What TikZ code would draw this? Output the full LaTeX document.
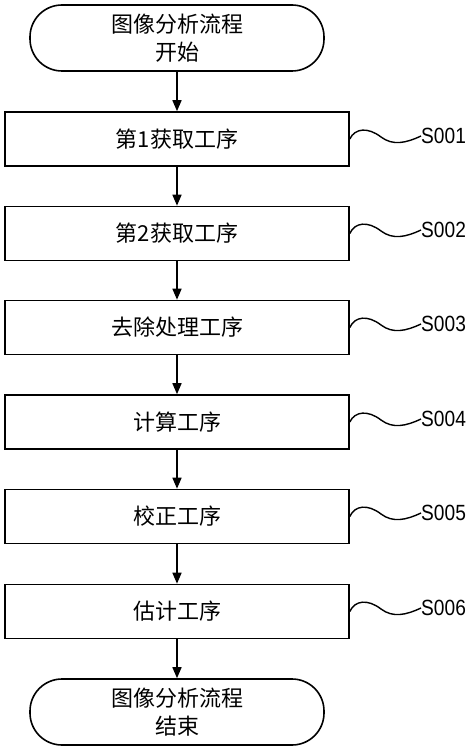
\documentclass[tikz,border=0pt]{standalone}
\usepackage{fontspec}
\setmainfont{Noto Sans CJK SC}
\newfontfamily\labfont[FakeStretch=0.87]{Liberation Sans}
\usetikzlibrary{arrows.meta}
\tikzset{
  stepbox/.style={draw, line width=1.6pt, minimum width=344pt, minimum height=54pt, inner sep=0pt, font=\fontsize{22}{28}\selectfont},
  term/.style={draw, line width=1.6pt, rounded corners=32pt, minimum width=294pt, minimum height=66pt, inner sep=0pt, align=center, font=\fontsize{22}{28}\selectfont},
  flow/.style={line width=1.6pt, -{Triangle[length=11pt,width=9pt]}},
  wave/.style={line width=1.4pt},
  steplab/.style={anchor=west, inner sep=0pt, font=\labfont\fontsize{22}{24}\selectfont}
}
\begin{document}
\begin{tikzpicture}[x=1pt,y=-1pt]
\useasboundingbox (0,0) rectangle (474,751);
\node[term] (start) at (177,38) {图像分析流程\\开始};
\node[stepbox] (b1) at (177,139) {第1获取工序};
\node[stepbox] (b2) at (177,233.5) {第2获取工序};
\node[stepbox] (b3) at (177,327.5) {去除处理工序};
\node[stepbox] (b4) at (177,422) {计算工序};
\node[stepbox] (b5) at (177,516.5) {校正工序};
\node[stepbox] (b6) at (177,611.5) {估计工序};
\node[term] (end) at (177,712) {图像分析流程\\结束};
\draw[flow] (start) -- (b1);
\draw[flow] (b1) -- (b2);
\draw[flow] (b2) -- (b3);
\draw[flow] (b3) -- (b4);
\draw[flow] (b4) -- (b5);
\draw[flow] (b5) -- (b6);
\draw[flow] (b6) -- (end);
\foreach \i/\t/\s in {1/112/S001,2/206/S002,3/300/S003,4/395/S004,5/489/S005,6/584/S006}{
  \node[steplab] (l\i) at (421,\t+24) {\s};
  \draw[wave] (b\i.east) .. controls (355,\t+16) and (368,\t+15) .. (381,\t+25)
     .. controls (393,\t+34) and (406,\t+31) .. (l\i.west);
}
\end{tikzpicture}
\end{document}
